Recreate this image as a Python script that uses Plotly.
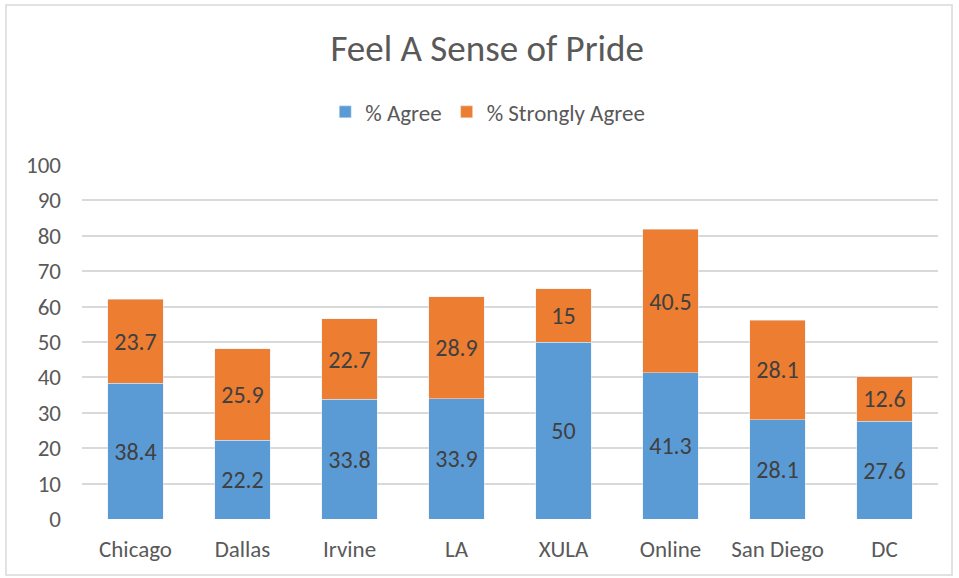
import plotly.graph_objects as go

miasta = ["Chicago", "Dallas", "Irvine", "LA", "XULA", "Online", "San Diego", "DC"]
agree = [38.4, 22.2, 33.8, 33.9, 50, 41.3, 28.1, 27.6]
strongly_agree = [23.7, 25.9, 22.7, 28.9, 15, 40.5, 28.1, 12.6]
y_ticks = [0, 10, 20, 30, 40, 50, 60, 70, 80, 90, 100]

FONT = "Carlito, Lato, sans-serif"

fig = go.Figure()
fig.add_bar(
    x=miasta, y=agree, name="% Agree", marker_color="#5B9BD5",
    text=[f"{v:g}" for v in agree], textposition="inside", insidetextanchor="middle",
    textfont=dict(size=24, color="#404040", family=FONT), textangle=0,
)
fig.add_bar(
    x=miasta, y=strongly_agree, name="% Strongly Agree", marker_color="#ED7D31",
    text=[f"{v:g}" for v in strongly_agree], textposition="inside", insidetextanchor="middle",
    textfont=dict(size=24, color="#404040", family=FONT), textangle=0,
)

fig.update_layout(
    barmode="stack",
    bargap=0.485,
    width=959, height=578,
    margin=dict(l=82, r=21, t=165, b=59),
    paper_bgcolor="white", plot_bgcolor="white",
    font=dict(family=FONT, color="#595959", size=22),
    title=dict(text="Feel A Sense of Pride", x=0.508, xanchor="center", y=0.917, yanchor="middle",
               font=dict(size=37, color="#595959")),
    legend=dict(orientation="h", x=0.474, xanchor="center", y=1.15, yanchor="middle",
                font=dict(size=23, color="#595959"), traceorder="normal"),
    uniformtext=dict(mode="show", minsize=10),
    shapes=[dict(type="rect", xref="paper", yref="paper", x0=-0.0888, x1=1.0164, y0=-0.158, y1=1.452,
                 line=dict(color="#d9d9d9", width=1.5), fillcolor="rgba(0,0,0,0)", layer="below")],
)
fig.update_xaxes(showgrid=False, showline=False, ticks="", tickfont=dict(size=23), ticklabelstandoff=14)
fig.update_yaxes(range=[0, 100], tickvals=y_ticks, showgrid=True, gridcolor="#d9d9d9", gridwidth=1.5,
                 zeroline=False, showline=False, ticks="", tickfont=dict(size=23), ticklabelstandoff=20)

fig.write_html("out.html", config={"displayModeBar": False},
               post_script="document.body.style.margin='0';")
